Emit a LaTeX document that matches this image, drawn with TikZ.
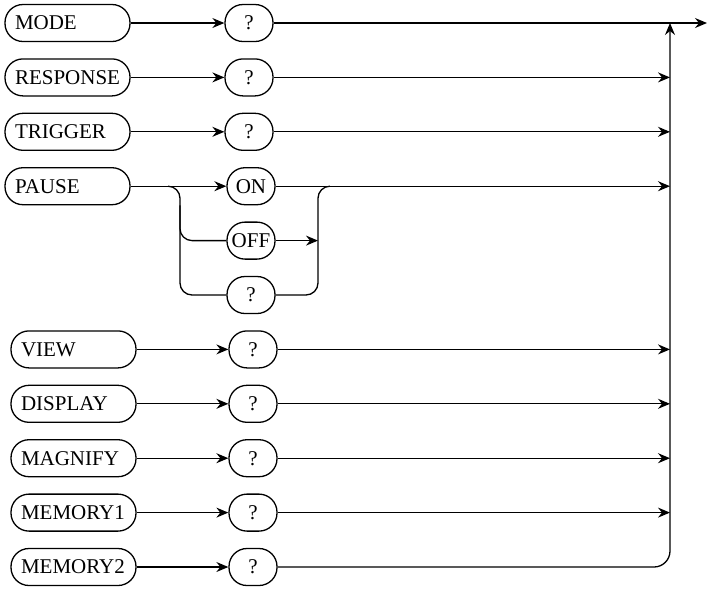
\documentclass[tikz,border=0pt]{standalone}
\usepackage{fontspec}
\setmainfont{Liberation Serif}
\usetikzlibrary{arrows.meta,positioning}

\begin{document}
\begin{tikzpicture}[x=0.5pt, y=-0.5pt,
    key/.style={rectangle, draw, line width=0.65pt, rounded corners=9pt,
                minimum height=18.5pt, text width=52.5pt, inner xsep=5pt,
                align=left, font=\fontsize{10.5}{12}\selectfont},
    opt/.style={rectangle, draw, line width=0.65pt, rounded corners=9pt,
                minimum height=18.5pt, minimum width=24pt, inner xsep=2pt,
                font=\fontsize{10.5}{12}\selectfont},
    arr/.style={-{Stealth[length=6pt, width=5pt, inset=2pt]}, line width=0.65pt},
    ln/.style={line width=0.65pt}
]
    \useasboundingbox (0,0) rectangle (707,591);

    % keywords and their parameters
    \node[key] (mode)     at (67.5,23)    {MODE};
    \node[opt] (qmode)    at (249,23)     {?};
    \node[key] (response) at (67.5,77.4)  {RESPONSE};
    \node[opt] (qresp)    at (249,77.4)   {?};
    \node[key] (trigger)  at (67.5,131.8) {TRIGGER};
    \node[opt] (qtrig)    at (249,131.8)  {?};
    \node[key] (pause)    at (67.5,186.2) {PAUSE};
    \node[opt] (on)       at (251,186.2)  {ON};
    \node[opt] (off)      at (251,240.6)  {OFF};
    \node[opt] (qpause)   at (251,295)    {?};
    \node[key] (view)     at (73.5,349.4) {VIEW};
    \node[opt] (qview)    at (253,349.4)  {?};
    \node[key] (display)  at (73.5,403.8) {DISPLAY};
    \node[opt] (qdisp)    at (253,403.8)  {?};
    \node[key] (magnify)  at (73.5,458.2) {MAGNIFY};
    \node[opt] (qmagn)    at (253,458.2)  {?};
    \node[key] (memone)   at (73.5,512.6) {MEMORY1};
    \node[opt] (qmemone)  at (253,512.6)  {?};
    \node[key] (memtwo)   at (73.5,567)   {MEMORY2};
    \node[opt] (qmemtwo)  at (253,567)    {?};

    \coordinate (bus)   at (670,23);
    \coordinate (out)   at (707,23);
    \coordinate (split) at (180,186.2);
    \coordinate (join)  at (318,186.2);

    % rows
    \draw[arr] (mode) -- (qmode);
    \draw[arr] (qmode) -- (out);
    \draw[arr] (response) -- (qresp);
    \draw[arr] (qresp) -- (qresp -| bus);
    \draw[arr] (trigger) -- (qtrig);
    \draw[arr] (qtrig) -- (qtrig -| bus);
    \draw[arr] (view) -- (qview);
    \draw[arr] (qview) -- (qview -| bus);
    \draw[arr] (display) -- (qdisp);
    \draw[arr] (qdisp) -- (qdisp -| bus);
    \draw[arr] (magnify) -- (qmagn);
    \draw[arr] (qmagn) -- (qmagn -| bus);
    \draw[arr] (memone) -- (qmemone);
    \draw[arr] (qmemone) -- (qmemone -| bus);
    \draw[arr] (memtwo) -- (qmemtwo);
    \draw[arr, rounded corners=8pt] (qmemtwo) -| (bus);

    % PAUSE branches
    \draw[arr] (pause) -- (on);
    \draw[arr] (on) -- (on -| bus);
    \draw[ln, rounded corners=6pt] ([xshift=-6pt]split) -| (split |- qpause) -- (qpause);
    \draw[ln, rounded corners=6pt] (split |- on.south) |- (off);
    \draw[arr] (off) -- (off -| join);
    \draw[ln, rounded corners=6pt] (qpause) -| (join) -- ([xshift=6pt]join);
\end{tikzpicture}
\end{document}
